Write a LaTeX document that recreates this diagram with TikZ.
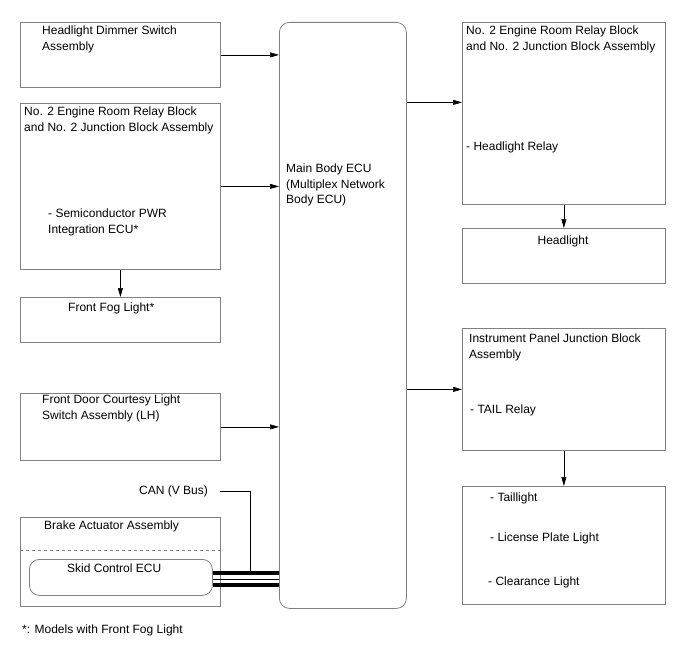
\documentclass[tikz,border=0pt]{standalone}
\usepackage{fontspec}
\setmainfont{Liberation Sans}
\usetikzlibrary{arrows.meta,positioning}

\begin{document}
\begin{tikzpicture}[
  x=1pt, y=-1pt,
  box/.style={draw=gray, line width=0.8pt, anchor=north west, inner sep=0pt},
  ecubox/.style={box, rounded corners=10pt},
  txt/.style={anchor=north west, inner sep=0pt, align=left,
              font=\fontsize{12}{15.5}\selectfont},
  arrow/.style={-{Triangle[length=9pt, width=5pt]}, line width=0.6pt},
  cable/.style={line width=3.4pt}
]
\useasboundingbox (0,0) rectangle (688,658);
% left column
\node[box, minimum width=200pt, minimum height=65pt] (dimmer) at (20,22) {};
\node[txt] (dimmerT) at (42,26) {Headlight Dimmer Switch\\Assembly};
\node[box, minimum width=200pt, minimum height=166pt] (erl) at (20,103) {};
\node[txt] (erlT) at (24,107) {No. 2 Engine Room Relay Block\\and No. 2 Junction Block Assembly};
\node[txt] (spwr) at (48,209) {- Semiconductor PWR\\Integration ECU*};
\node[box, minimum width=200pt, minimum height=45pt] (fog) at (20,297) {};
\node[txt] (fogT) at (68,303) {Front Fog Light*};
\node[box, minimum width=200pt, minimum height=67pt] (door) at (20,393) {};
\node[txt] (doorT) at (42,395) {Front Door Courtesy Light\\Switch Assembly (LH)};
\node[box, minimum width=200pt, minimum height=89pt] (brake) at (20,517) {};
\node[txt] (brakeT) at (44,521) {Brake Actuator Assembly};
\draw[gray, dashed, line width=0.8pt] (20,550) coordinate (dashL) -- (dashL -| brake.east);
\node[ecubox, minimum width=183pt, minimum height=36pt] (skid) at (29,559) {};
\node[txt] (skidT) at (67,564) {Skid Control ECU};
% main body ECU
\node[ecubox, minimum width=127pt, minimum height=586pt] (main) at (279,22) {};
\node[txt] (mainT) at (286,164) {Main Body ECU\\(Multiplex Network\\Body ECU)};
% right column
\node[box, minimum width=203pt, minimum height=182pt] (err) at (462,22) {};
\node[txt] (errT) at (466,26) {No. 2 Engine Room Relay Block\\and No. 2 Junction Block Assembly};
\node[txt] (hrelay) at (466,142) {- Headlight Relay};
\node[box, minimum width=203pt, minimum height=55pt] (head) at (462,228) {};
\node[txt, anchor=north] (headT) at (563,236) {Headlight};
\node[box, minimum width=203pt, minimum height=122pt] (ipjb) at (462,328) {};
\node[txt] (ipjbT) at (469,334) {Instrument Panel Junction Block\\Assembly};
\node[txt] (tail) at (470,405) {- TAIL Relay};
\node[box, minimum width=203pt, minimum height=118pt] (lights) at (462,486) {};
\node[txt] (taillight) at (490,493) {- Taillight};
\node[txt] (license) at (490,533) {- License Plate Light};
\node[txt] (clearance) at (488,577) {- Clearance Light};
% CAN
\node[txt, anchor=east] (can) at (208,491) {CAN (V Bus)};
\coordinate (canJ) at (250,572.5);
\draw[line width=0.6pt] ([xshift=12pt]can.east) -| (canJ);
\draw[cable] ([yshift=4.5pt]skid.east) -- ([yshift=4.5pt]skid.east -| main.west);
\draw[line width=0.8pt] ([yshift=-1.5pt]skid.east) -- ([yshift=-1.5pt]skid.east -| main.west);
\draw[cable] ([yshift=-7.5pt]skid.east) -- ([yshift=-7.5pt]skid.east -| main.west);
% connectors
\draw[arrow] (dimmer.east) -- (dimmer.east -| main.west);
\draw[arrow] (erl.east) -- (erl.east -| main.west);
\draw[arrow] (door.east) -- (door.east -| main.west);
\draw[arrow] (erl.south) -- (fog.north);
\draw[arrow] ([yshift=11pt]err.west -| main.east) -- ([yshift=11pt]err.west);
\draw[arrow] (ipjb.west -| main.east) -- (ipjb.west);
\draw[arrow] (err.south) -- (head.north);
\draw[arrow] (ipjb.south) -- (lights.north);
\node[txt] (note) at (22,625) {*: Models with Front Fog Light};
\end{tikzpicture}
\end{document}
